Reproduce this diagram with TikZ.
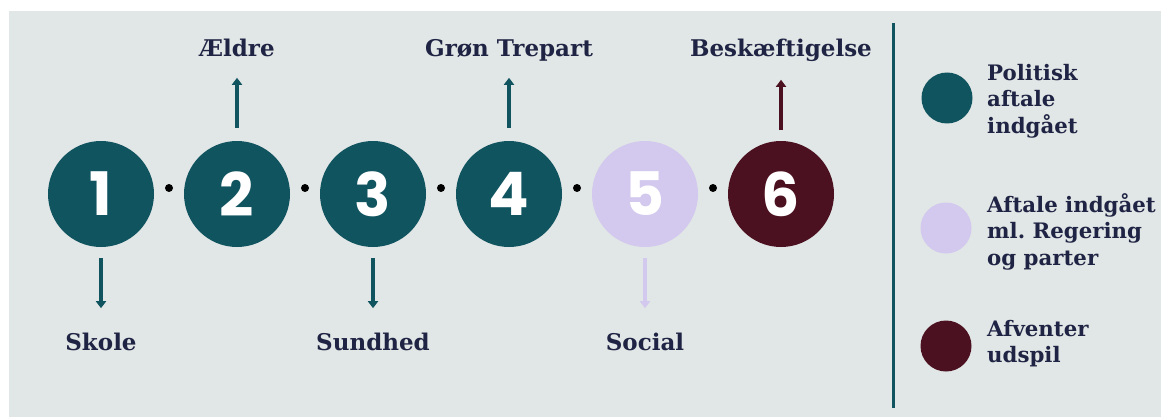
\documentclass[tikz,border=0pt]{standalone}
\usepackage{fontspec}
\setmainfont{DejaVu Serif}
\newfontfamily\numfont{Poppins}
\usepackage{tikz}
\usetikzlibrary{positioning,calc}
\usetikzlibrary{arrows.meta}
\definecolor{PaperGray}{RGB}{225,230,230}
\definecolor{AftaleTeal}{RGB}{16,84,96}
\definecolor{PartLilac}{RGB}{211,200,238}
\definecolor{VentMaroon}{RGB}{76,17,32}
\definecolor{InkNavy}{RGB}{32,36,68}
\frenchspacing
\tikzset{
  phase/.style={circle,inner sep=0pt,minimum size=106pt,text=white,
    font=\numfont\bfseries\fontsize{60}{60}\selectfont},
  link/.style={circle,fill=black,inner sep=0pt,minimum size=8pt},
  pil/.style={line width=4.5pt,-{Triangle[width=10pt,length=7pt]}},
  emne/.style={text=InkNavy,inner sep=0pt,font=\bfseries\fontsize{23}{26}\selectfont},
  prik/.style={circle,inner sep=0pt,minimum size=51pt},
  forklar/.style={text=InkNavy,inner sep=0pt,anchor=north west,align=left,
    font=\bfseries\fontsize{21.3}{26.5}\selectfont},
}

\begin{document}
\begin{tikzpicture}[x=1pt,y=-1pt]
\useasboundingbox (0,0) rectangle (1161,417);
\fill[PaperGray] (9,11) rectangle (1161,417);
% faser
\node[phase,fill=AftaleTeal] (f1) at (101,194) {1};
\node[phase,fill=AftaleTeal] (f2) at (237,194) {2};
\node[phase,fill=AftaleTeal] (f3) at (373,194) {3};
\node[phase,fill=AftaleTeal] (f4) at (509,194) {4};
\node[phase,fill=PartLilac] (f5) at (645,194) {5};
\node[phase,fill=VentMaroon] (f6) at (781,194) {6};
% prikker
\node[link] (p12) at (169,188) {};
\node[link] (p23) at (305,188) {};
\node[link] (p34) at (441,188) {};
\node[link] (p45) at (577,188) {};
\node[link] (p56) at (713,188) {};
% emner
\node[emne,anchor=base] (skole) at (101,350) {Skole};
\node[emne,anchor=base] (aeldre) at (237,57) {Ældre};
\node[emne,anchor=base] (sundhed) at (373,350) {Sundhed};
\node[emne,anchor=base] (groen) at (509,57) {Grøn Trepart};
\node[emne,anchor=base] (social) at (645,350) {Social};
\node[emne,anchor=base] (besk) at (781,57) {Beskæftigelse};
\draw[pil,AftaleTeal] ([yshift=-11pt]f1.south) -- ([yshift=-61pt]f1.south);
\draw[pil,AftaleTeal] ([yshift=13pt]f2.north) -- ([yshift=63pt]f2.north);
\draw[pil,AftaleTeal] ([yshift=-11pt]f3.south) -- ([yshift=-61pt]f3.south);
\draw[pil,AftaleTeal] ([yshift=13pt]f4.north) -- ([yshift=63pt]f4.north);
\draw[pil,PartLilac] ([yshift=-11pt]f5.south) -- ([yshift=-61pt]f5.south);
\draw[pil,VentMaroon] ([yshift=11pt]f6.north) -- ([yshift=61pt]f6.north);
% skillelinje
\coordinate (st) at (893,23);
\coordinate (sb) at (893,408);
\draw[AftaleTeal,line width=3pt] (st) -- (sb);
% forklaring
\node[prik,fill=AftaleTeal] (l1) at (947,98) {};
\node[prik,fill=PartLilac] (l2) at (946,228) {};
\node[prik,fill=VentMaroon] (l3) at (946,346) {};
\node[forklar] (t1) at (987,64) {Politisk\\aftale\\indgået};
\node[forklar] (t2) at (987,193) {Aftale indgået\\ml. Regering\\og parter};
\node[forklar] (t3) at (987,320) {Afventer\\udspil};
\end{tikzpicture}
\end{document}
